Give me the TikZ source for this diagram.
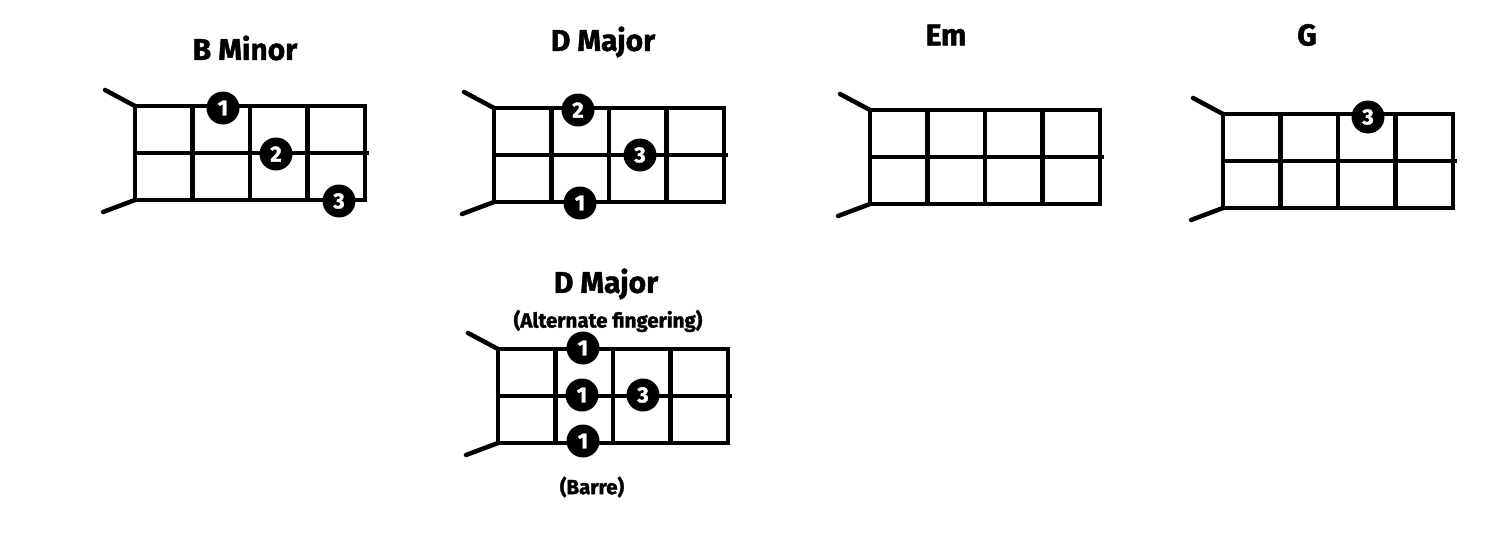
\documentclass[tikz,border=0pt]{standalone}
\usepackage{fontspec}
\setmainfont{Fira Sans}[BoldFeatures={FakeBold=1.5}]
\usetikzlibrary{calc}
\tikzset{
  fret/.style={line width=4.5pt, line cap=round},
  finger/.style={circle, fill=black, text=white, inner sep=0pt, minimum size=33pt,
    font=\bfseries\fontsize{22}{22}\selectfont},
  chordname/.style={font=\bfseries\fontsize{30}{30}\selectfont},
  chordnote/.style={font=\bfseries\fontsize{20.5}{20.5}\selectfont}
}
\newcommand{\chordgrid}[1]{% four-fret grid, top left corner at (#1)
  % head of the neck, two short slanted strokes
  \draw[fret] ($(#1)+(-30,-16)$) -- (#1);
  \draw[fret] ($(#1)+(-32,106)$) -- ($(#1)+(0,94)$);
  \draw[fret, line cap=butt] (#1) rectangle ($(#1)+(230,94)$);
  \draw[fret, line cap=butt] ($(#1)+(0,47)$) -- ($(#1)+(234,47)$);
  \foreach \k in {1,2,3}
    \draw[fret, line cap=butt] ($(#1)+(57.5*\k,0)$) -- ($(#1)+(57.5*\k,94)$);
}

\begin{document}
\begin{tikzpicture}[x=1pt,y=-1pt]
  \useasboundingbox (0,0) rectangle (1500,544);
  % B minor
  \chordgrid{135,106}
  \node[chordname] (bmname) at (245,48) {B Minor};
  \node[finger] (bm1) at (223,108) {1};
  \node[finger] (bm2) at (276,154) {2};
  \node[finger] (bm3) at (339,201) {3};
  % D major
  \chordgrid{494,108}
  \node[chordname] (dname) at (603,42) {D Major};
  \node[finger] (d2) at (578,110) {2};
  \node[finger] (d3) at (640,155) {3};
  \node[finger] (d1) at (580,203) {1};
  % E minor
  \chordgrid{870,110}
  \node[chordname] (emname) at (946,35) {Em};
  % G
  \chordgrid{1223,114}
  \node[chordname] (gname) at (1307,35) {G};
  \node[finger] (g3) at (1368,117) {3};
  % D major, barre
  \chordgrid{498,349}
  \node[chordname] (daltname) at (606,284) {D Major};
  \node[chordnote] (daltnote) at (608,321) {(Alternate fingering)};
  \node[finger] (da1) at (583,348) {1};
  \node[finger] (da2) at (582,395) {1};
  \node[finger] (da3) at (643,395) {3};
  \node[finger] (da4) at (583,441) {1};
  \node[chordnote] (barre) at (592,487) {(Barre)};
\end{tikzpicture}
\end{document}
